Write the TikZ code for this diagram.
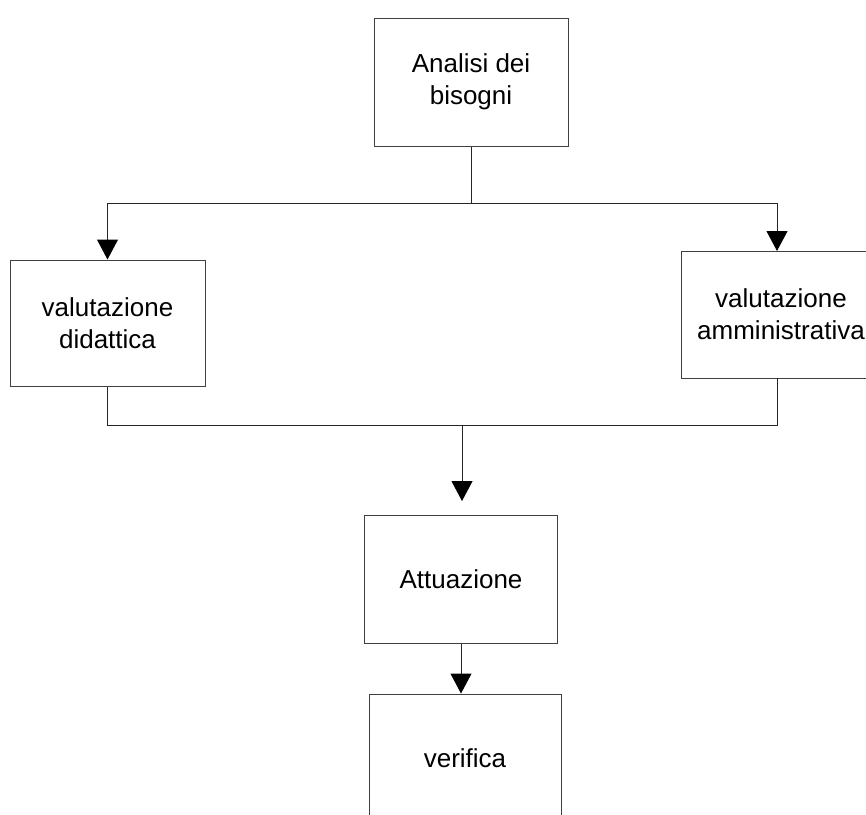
\documentclass[tikz,border=0pt]{standalone}
\usepackage{fontspec}
\setmainfont{Liberation Sans}
\usetikzlibrary{arrows.meta}
\begin{document}
\begin{tikzpicture}[x=1pt,y=-1pt,
  box/.style={draw=black!75, line width=1pt, align=center, inner sep=0pt,
    font=\fontsize{26}{32}\selectfont},
  conn/.style={draw=black!85, line width=1pt},
  arr/.style={conn, -{Triangle[width=21pt,length=20pt,fill=black,color=black]}}]
\useasboundingbox (0,0) rectangle (866,814);
\clip (0,0) rectangle (866,814);
\fill[white] (0,0) rectangle (866,814);
\node[box, minimum width=194pt, minimum height=128pt] (top) at (471,82) {Analisi dei\\bisogni};
\node[box, minimum width=195pt, minimum height=126pt] (left) at (107.5,323) {valutazione\\didattica};
\node[box, minimum width=194pt, minimum height=127pt] (right) at (778,314.5) {\hspace*{6pt}valutazione\\\hspace*{6pt}amministrativa};
\node[box, minimum width=193pt, minimum height=128pt] (att) at (461,579) {Attuazione};
\node[box, minimum width=192pt, minimum height=128pt] (ver) at (465,758) {verifica};
\coordinate (j1) at (471,203);
\coordinate (j2) at (462,425);
\coordinate (rt) at (777,251);
\coordinate (rb) at (777,378);
\draw[conn] (top.south) -- (j1);
\draw[arr] (j1) -| (left.north);
\draw[arr] (j1) -| (rt);
\draw[conn] (left.south) |- (j2);
\draw[conn] (rb) |- (j2);
\draw[arr] (j2) -- (462,501);
\draw[arr] (att.south) -- (att.south |- ver.north);
\end{tikzpicture}
\end{document}
